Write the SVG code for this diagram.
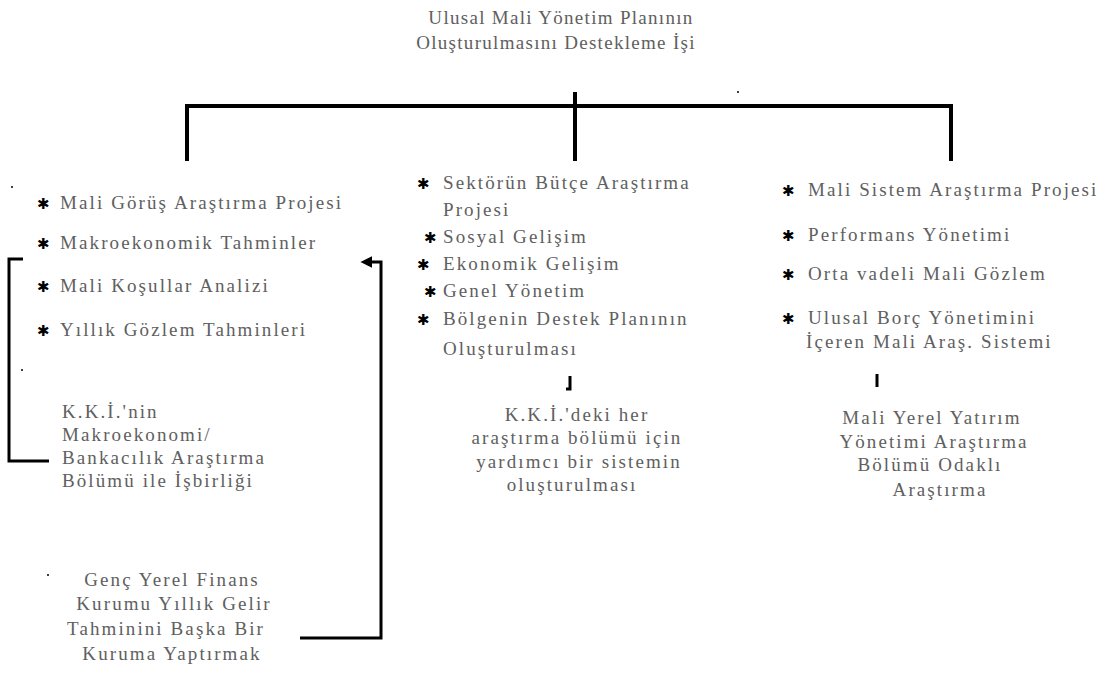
<svg xmlns="http://www.w3.org/2000/svg" width="1105" height="691" viewBox="0 0 1105 691">
<defs>
<style>
text{font-family:"Liberation Serif","Times New Roman",serif;font-size:19px;fill:#606060;letter-spacing:2.1px}
.t{letter-spacing:1.3px}
.c{text-anchor:middle}
.b{font-family:"DejaVu Sans",sans-serif;font-size:15px;fill:#000;letter-spacing:0}
.ln{fill:none;stroke:#000;stroke-width:4}
.br{fill:none;stroke:#000;stroke-width:3}
</style>
<marker id="ah" viewBox="0 0 10 10" refX="2" refY="5" markerWidth="4" markerHeight="4" orient="auto"><path d="M0,0 L10,5 L0,10 z" fill="#000"/></marker>
</defs>
<rect width="1105" height="691" fill="#fff"/>
<g id="title">
<text class="c t" x="561" y="24">Ulusal Mali Yönetim Planının</text>
<text class="c t" x="556" y="49">Oluşturulmasını Destekleme İşi</text>
</g>
<g id="connectors">
<path class="ln" d="M187,161 V106 H951 V161"/>
<path class="ln" d="M575,92 V161"/>
<path class="br" d="M23,259 H9 V461 H49"/>
<path class="br" d="M300,638 H381 V262 H370" marker-end="url(#ah)"/>
<path class="br" d="M570,376 V389 H566"/>
<path class="br" d="M877,374 V387"/>
</g>
<g id="left-list">
<text class="b" x="37" y="209">✱</text><text x="60" y="209">Mali Görüş Araştırma Projesi</text>
<text class="b" x="37" y="249">✱</text><text x="60" y="249">Makroekonomik Tahminler</text>
<text class="b" x="37" y="292">✱</text><text x="60" y="292">Mali Koşullar Analizi</text>
<text class="b" x="37" y="336">✱</text><text x="60" y="336">Yıllık Gözlem Tahminleri</text>
</g>
<g id="left-note">
<text x="62" y="418">K.K.İ.'nin</text>
<text x="62" y="441">Makroekonomi/</text>
<text x="62" y="464">Bankacılık Araştırma</text>
<text x="62" y="487">Bölümü ile İşbirliği</text>
</g>
<g id="middle-list">
<text class="b" x="417" y="189">✱</text><text x="443" y="189">Sektörün Bütçe Araştırma</text>
<text x="443" y="216">Projesi</text>
<text class="b" x="424" y="243">✱</text><text x="443" y="243">Sosyal Gelişim</text>
<text class="b" x="417" y="270">✱</text><text x="443" y="270">Ekonomik Gelişim</text>
<text class="b" x="424" y="297">✱</text><text x="443" y="297">Genel Yönetim</text>
<text class="b" x="417" y="325">✱</text><text x="443" y="325">Bölgenin Destek Planının</text>
<text x="443" y="355">Oluşturulması</text>
</g>
<g id="middle-note">
<text class="c" x="577" y="421">K.K.İ.'deki her</text>
<text class="c" x="577" y="444">araştırma bölümü için</text>
<text class="c" x="579" y="468">yardımcı bir sistemin</text>
<text class="c" x="572" y="491">oluşturulması</text>
</g>
<g id="right-list">
<text class="b" x="782" y="196">✱</text><text x="808" y="196">Mali Sistem Araştırma Projesi</text>
<text class="b" x="782" y="241">✱</text><text x="808" y="241">Performans Yönetimi</text>
<text class="b" x="782" y="280">✱</text><text x="808" y="280">Orta vadeli Mali Gözlem</text>
<text class="b" x="782" y="324">✱</text><text x="808" y="324">Ulusal Borç Yönetimini</text>
<text x="806" y="348">İçeren Mali Araş. Sistemi</text>
</g>
<g id="right-note">
<text class="c" x="932" y="424">Mali Yerel Yatırım</text>
<text class="c" x="934" y="448">Yönetimi Araştırma</text>
<text class="c" x="930" y="471">Bölümü Odaklı</text>
<text class="c" x="940" y="496">Araştırma</text>
</g>
<g id="bottom-note">
<text class="c" x="172" y="586">Genç Yerel Finans</text>
<text class="c" x="174" y="610">Kurumu Yıllık Gelir</text>
<text class="c" x="166" y="635">Tahminini Başka Bir</text>
<text class="c" x="172" y="660">Kuruma Yaptırmak</text>
</g>
<g id="specks" fill="#000">
<circle cx="738" cy="92" r="1"/>
<circle cx="12" cy="187" r="1"/>
<circle cx="22" cy="370" r="1"/>
<circle cx="48" cy="575" r="1"/>
</g>
</svg>
